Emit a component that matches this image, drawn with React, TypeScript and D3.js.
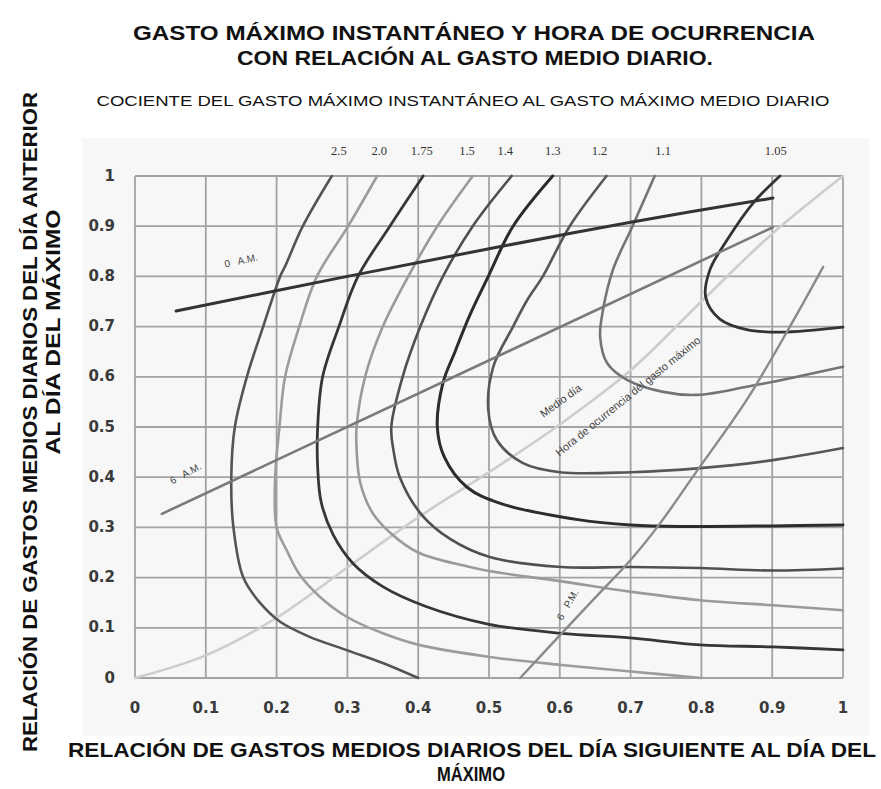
import React from 'react';
import * as d3 from 'd3';

type P = [number, number];

// ---- axis ticks ----
const xTicks = [0, 0.1, 0.2, 0.3, 0.4, 0.5, 0.6, 0.7, 0.8, 0.9, 1];
const yTicks = [0, 0.1, 0.2, 0.3, 0.4, 0.5, 0.6, 0.7, 0.8, 0.9, 1];
const xTickLabels = ['0', '0.1', '0.2', '0.3', '0.4', '0.5', '0.6', '0.7', '0.8', '0.9', '1'];
const yTickLabels = ['0', '0.1', '0.2', '0.3', '0.4', '0.5', '0.6', '0.7', '0.8', '0.9', '1'];

// ---- ratio curves (x: next day ratio, y: previous day ratio) ----
const curve250: P[] = [[0.278, 1], [0.237, 0.9], [0.212, 0.82], [0.205, 0.8], [0.181, 0.7], [0.158, 0.6], [0.141, 0.5], [0.136, 0.4], [0.139, 0.3], [0.153, 0.2], [0.177, 0.149], [0.205, 0.112], [0.245, 0.083], [0.3, 0.055], [0.35, 0.03], [0.4, 0]];
const curve200: P[] = [[0.342, 1], [0.301, 0.9], [0.257, 0.8], [0.232, 0.7], [0.212, 0.6], [0.204, 0.5], [0.198, 0.4], [0.2, 0.3], [0.214, 0.255], [0.233, 0.205], [0.261, 0.162], [0.299, 0.122], [0.35, 0.089], [0.401, 0.066], [0.501, 0.042], [0.602, 0.026], [0.7, 0.013], [0.8, 0]];
const curve175: P[] = [[0.407, 1], [0.36, 0.9], [0.315, 0.8], [0.288, 0.7], [0.265, 0.6], [0.258, 0.5], [0.258, 0.42], [0.263, 0.35], [0.28, 0.285], [0.308, 0.228], [0.35, 0.182], [0.41, 0.143], [0.5, 0.107], [0.602, 0.089], [0.699, 0.08], [0.798, 0.066], [0.901, 0.062], [1, 0.056]];
const curve150: P[] = [[0.477, 1], [0.427, 0.9], [0.386, 0.8], [0.35, 0.7], [0.325, 0.6], [0.313, 0.5], [0.313, 0.454], [0.318, 0.39], [0.335, 0.33], [0.36, 0.29], [0.4, 0.25], [0.47, 0.222], [0.5, 0.213], [0.6, 0.193], [0.699, 0.172], [0.798, 0.155], [0.901, 0.145], [1, 0.135]];
const curve140: P[] = [[0.532, 1], [0.477, 0.9], [0.435, 0.8], [0.403, 0.7], [0.378, 0.6], [0.362, 0.5], [0.365, 0.454], [0.374, 0.4], [0.405, 0.325], [0.445, 0.277], [0.501, 0.241], [0.602, 0.221], [0.699, 0.221], [0.798, 0.219], [0.901, 0.214], [1, 0.218]];
const curve130: P[] = [[0.59, 1], [0.534, 0.9], [0.499, 0.8], [0.472, 0.72], [0.452, 0.65], [0.435, 0.588], [0.427, 0.5], [0.437, 0.44], [0.469, 0.38], [0.516, 0.348], [0.628, 0.315], [0.7, 0.305], [0.77, 0.302], [0.9, 0.303], [1, 0.305]];
const curve120: P[] = [[0.666, 1], [0.614, 0.9], [0.576, 0.8], [0.554, 0.753], [0.534, 0.7], [0.506, 0.62], [0.499, 0.534], [0.511, 0.474], [0.548, 0.428], [0.6, 0.41], [0.7, 0.41], [0.798, 0.418], [0.901, 0.434], [1, 0.458]];
const curve110: P[] = [[0.734, 1], [0.702, 0.898], [0.675, 0.813], [0.661, 0.733], [0.657, 0.679], [0.667, 0.627], [0.695, 0.594], [0.746, 0.57], [0.794, 0.564], [0.864, 0.58], [0.935, 0.6], [1, 0.62]];
const curve105: P[] = [[0.911, 1], [0.873, 0.946], [0.836, 0.872], [0.812, 0.813], [0.806, 0.759], [0.826, 0.715], [0.864, 0.694], [0.911, 0.689], [0.958, 0.693], [1, 0.699]];

// ---- hour-of-occurrence lines ----
const hour0am: P[] = [[0.058, 0.731], [0.3, 0.8], [0.511, 0.858], [0.7, 0.908], [0.901, 0.956]];
const hour6am: P[] = [[0.038, 0.327], [0.901, 0.898]];
const hour6pm: P[] = [[0.544, 0], [0.6, 0.085], [0.65, 0.16], [0.7, 0.235], [0.74, 0.305], [0.795, 0.415], [0.864, 0.554], [0.925, 0.7], [0.972, 0.819]];
const noonLine: P[] = [[0, 0], [0.1, 0.045], [0.2, 0.12], [0.3, 0.22], [0.4, 0.32], [0.5, 0.41], [0.6, 0.505], [0.7, 0.613], [0.8, 0.75], [0.9, 0.885], [1, 1]];

// ---- curve labels (ratio of max instantaneous to max daily mean) ----
const ratioLabels = ['2.5', '2.0', '1.75', '1.5', '1.4', '1.3', '1.2', '1.1', '1.05'];
const ratioLabelX = [0.288, 0.345, 0.405, 0.469, 0.523, 0.59, 0.656, 0.746, 0.905];
const ratioLabelY = 1.047;

// annotations
const annoText = ['0   A.M.', '6   A.M.', '6   P.M.', 'Medio día', 'Hora de ocurrencia del gasto máximo'];
const annoX = [0.15, 0.072, 0.612, 0.602, 0.697];
const annoY = [0.83, 0.406, 0.145, 0.551, 0.56];

const W = 881;
const H = 789;

export default function App() {
  const x = d3.scaleLinear().domain([0, 1]).range([135, 843]);
  const y = d3.scaleLinear().domain([0, 1]).range([678, 176]);
  const smooth = d3.line<P>().x(d => x(d[0])).y(d => y(d[1])).curve(d3.curveCatmullRom.alpha(0.5));
  const straight = d3.line<P>().x(d => x(d[0])).y(d => y(d[1]));

  const series: { data: P[]; color: string; w: number; smooth: boolean }[] = [
    { data: noonLine, color: '#cdcdcd', w: 2.6, smooth: true },
    { data: curve250, color: '#545454', w: 2.6, smooth: true },
    { data: curve200, color: '#9c9c9c', w: 2.6, smooth: true },
    { data: curve175, color: '#363636', w: 2.8, smooth: true },
    { data: curve150, color: '#9a9a9a', w: 2.6, smooth: true },
    { data: curve140, color: '#505050', w: 2.6, smooth: true },
    { data: curve130, color: '#2c2c2c', w: 3, smooth: true },
    { data: curve120, color: '#575757', w: 2.6, smooth: true },
    { data: curve110, color: '#747474', w: 2.6, smooth: true },
    { data: curve105, color: '#333333', w: 2.8, smooth: true },
    { data: hour6am, color: '#7a7a7a', w: 2.6, smooth: false },
    { data: hour6pm, color: '#8a8a8a', w: 2.4, smooth: true },
    { data: hour0am, color: '#333333', w: 3, smooth: true },
  ];

  const annoAngle = [-12, -28, -60, -36, -39];
  const annoSize = [10, 10, 10, 11, 11];

  const sans = '"Liberation Sans", Arial, sans-serif';

  return (
    <svg width={W} height={H} style={{ position: 'absolute', left: 0, top: 0, background: '#ffffff' }}>
      <rect x={82} y={138} width={787} height={598} fill="#f7f7f7" />

      {/* titles */}
      <text x={474} y={40} textAnchor="middle" fontFamily={sans} fontWeight="bold" fontSize={21} fill="#111" textLength={682} lengthAdjust="spacingAndGlyphs">GASTO MÁXIMO INSTANTÁNEO Y HORA DE OCURRENCIA</text>
      <text x={475} y={65} textAnchor="middle" fontFamily={sans} fontWeight="bold" fontSize={21} fill="#111" textLength={476} lengthAdjust="spacingAndGlyphs">CON RELACIÓN AL GASTO MEDIO DIARIO.</text>
      <text x={463} y={106} textAnchor="middle" fontFamily={sans} fontSize={15} fill="#111" textLength={733} lengthAdjust="spacingAndGlyphs">COCIENTE DEL GASTO MÁXIMO INSTANTÁNEO AL GASTO MÁXIMO MEDIO DIARIO</text>

      {/* grid */}
      {xTicks.map((t, i) => (
        <line key={'gx' + i} x1={x(t)} x2={x(t)} y1={y(0)} y2={y(1)} stroke="#a3a3a3" strokeWidth={1.8} />
      ))}
      {yTicks.map((t, i) => (
        <line key={'gy' + i} x1={x(0)} x2={x(1)} y1={y(t)} y2={y(t)} stroke="#a3a3a3" strokeWidth={1.8} />
      ))}

      {/* curves */}
      {series.map((s, i) => (
        <path key={'s' + i} d={(s.smooth ? smooth : straight)(s.data) || ''} fill="none" stroke={s.color} strokeWidth={s.w} strokeLinecap="round" strokeLinejoin="round" />
      ))}

      {/* ratio labels */}
      {ratioLabels.map((l, i) => (
        <text key={'rl' + i} x={x(ratioLabelX[i])} y={y(ratioLabelY)} textAnchor="middle" fontFamily='"Liberation Serif", serif' fontSize={12.5} fill="#333" dominantBaseline="middle">{l}</text>
      ))}

      {/* annotations */}
      {annoText.map((t, i) => (
        <text key={'an' + i} transform={`translate(${x(annoX[i])},${y(annoY[i])}) rotate(${annoAngle[i]})`} textAnchor="middle" dominantBaseline="middle" fontFamily={sans} fontSize={annoSize[i]} fill="#444" style={{ whiteSpace: 'pre' }}>{t}</text>
      ))}

      {/* tick labels */}
      {xTicks.map((t, i) => (
        <text key={'xl' + i} x={x(t)} y={713} textAnchor="middle" fontFamily='"DejaVu Sans", Verdana, sans-serif' fontWeight="bold" fontSize={15} fill="#3a3a3a">{xTickLabels[i]}</text>
      ))}
      {yTicks.map((t, i) => (
        <text key={'yl' + i} x={115} y={y(t)} textAnchor="end" dominantBaseline="middle" fontFamily='"DejaVu Sans", Verdana, sans-serif' fontWeight="bold" fontSize={15} fill="#3a3a3a">{yTickLabels[i]}</text>
      ))}

      {/* axis titles */}
      <text x={472} y={757} textAnchor="middle" fontFamily={sans} fontWeight="bold" fontSize={21} fill="#111" textLength={808} lengthAdjust="spacingAndGlyphs">RELACIÓN DE GASTOS MEDIOS DIARIOS DEL DÍA SIGUIENTE AL DÍA DEL</text>
      <text x={471} y={781} textAnchor="middle" fontFamily={sans} fontWeight="bold" fontSize={21} fill="#111" textLength={68} lengthAdjust="spacingAndGlyphs">MÁXIMO</text>
      <text transform="translate(37,422) rotate(-90)" textAnchor="middle" fontFamily={sans} fontWeight="bold" fontSize={20} fill="#111" textLength={660} lengthAdjust="spacingAndGlyphs">RELACIÓN DE GASTOS MEDIOS DIARIOS DEL DÍA ANTERIOR</text>
      <text transform="translate(60,332) rotate(-90)" textAnchor="middle" fontFamily={sans} fontWeight="bold" fontSize={20} fill="#111" textLength={245} lengthAdjust="spacingAndGlyphs">AL DÍA DEL MÁXIMO</text>
    </svg>
  );
}
